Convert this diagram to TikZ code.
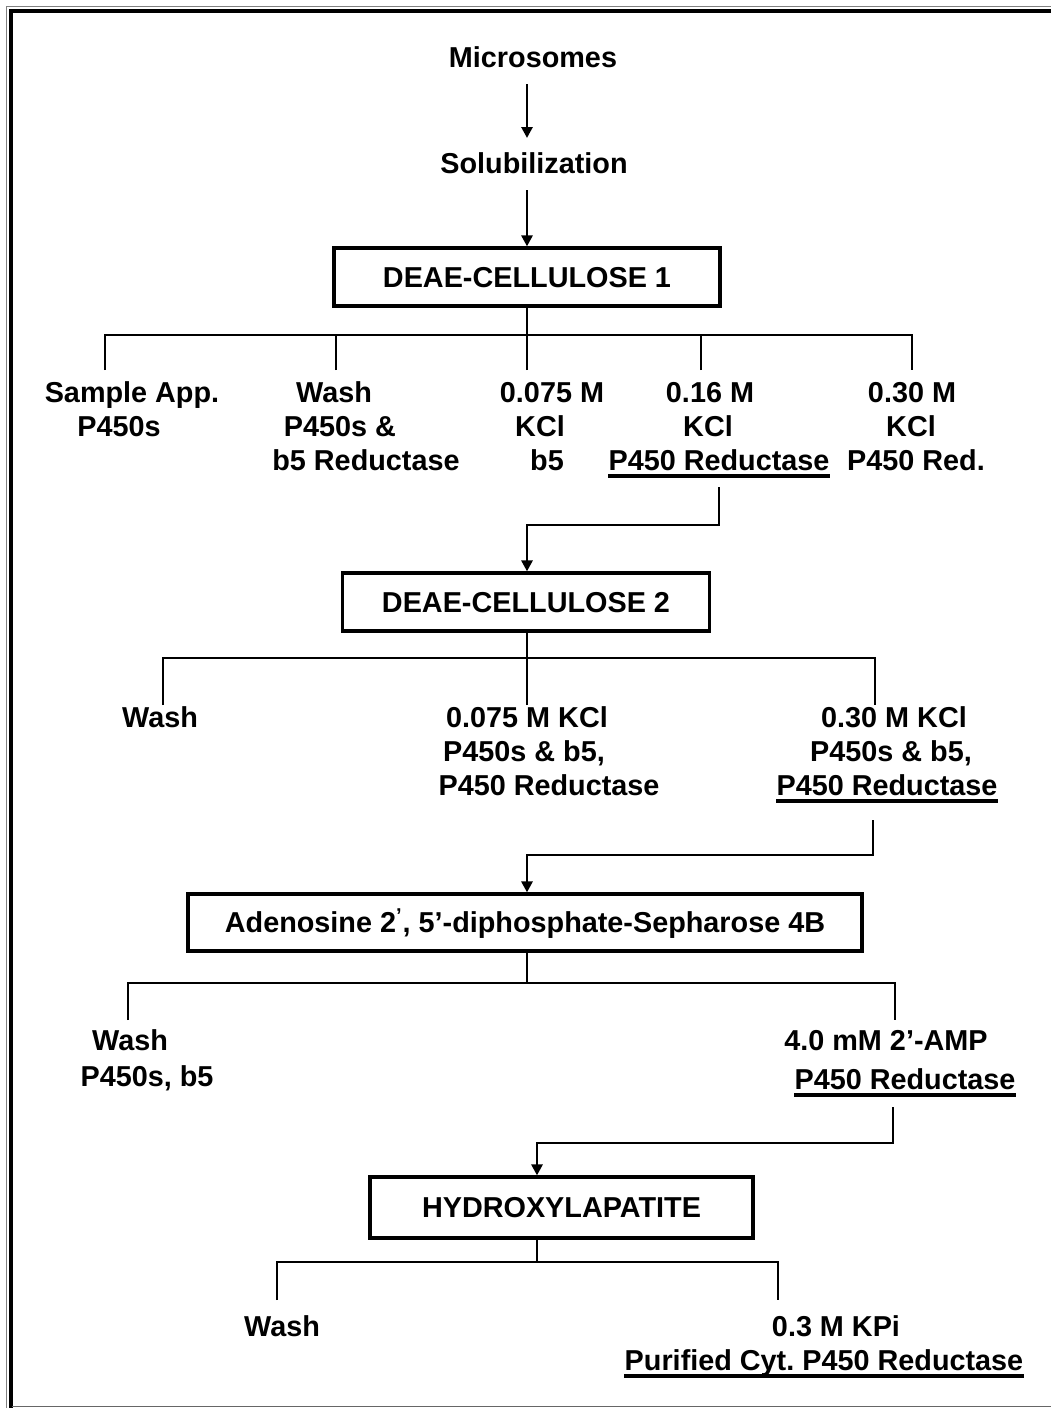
\documentclass[tikz,border=0pt]{standalone}
\usepackage{fontspec}
\setmainfont{Liberation Sans}
\usetikzlibrary{arrows.meta,calc}
\frenchspacing
\begin{document}
\begin{tikzpicture}[x=0.5pt,y=-0.5pt,
  lbl/.style={anchor=base,inner sep=0pt,font=\fontsize{14.4}{17}\selectfont\bfseries},
  boxn/.style={draw,line width=1.6pt,inner sep=0pt,text height=10.3pt,text depth=0pt,
    font=\fontsize{14.4}{17}\selectfont\bfseries},
  ln/.style={line width=1.4pt},
  ul/.style={line width=2pt},
  arr/.style={line width=1.4pt,-{Triangle[length=5.5pt,width=5.5pt]}}]
\useasboundingbox (0,0) rectangle (1051,1408);
% frame
\draw[gray,line width=0.8pt] (6.5,1408) -- (6.5,6.5) -- (1051,6.5);
\draw[black,line width=2pt] (10.5,1408) -- (10.5,10.5) -- (1051,10.5);
\draw[gray!80!black,line width=0.8pt] (12,1406.5) -- (1051,1406.5);

% top
\node[lbl] (micro) at (533,67) {Microsomes};
\node[lbl] (solub) at (534,173) {Solubilization};
\node[boxn,minimum width=193pt,minimum height=29pt] (box1) at (527,277) {DEAE-CELLULOSE 1};
\draw[arr] ($(micro.base -| box1.north)+(0,17)$) -- ($(solub.base -| box1.north)+(0,-35)$);
\draw[arr] ($(solub.base -| box1.north)+(0,17)$) -- (box1.north);

% branches of box1
\coordinate (j1) at (527,335);
\coordinate (d11) at (105,370);
\coordinate (d12) at (336,370);
\coordinate (d13) at (527,370);
\coordinate (d14) at (701,370);
\coordinate (d15) at (912,370);
\draw[ln] (box1.south) -- (j1);
\draw[ln] (d11) -- (d11 |- j1) -- (d15 |- j1) -- (d15);
\draw[ln] (d12) -- (d12 |- j1);
\draw[ln] (d13) -- (d13 |- j1);
\draw[ln] (d14) -- (d14 |- j1);

\node[lbl] (r11a) at (132,402) {Sample App.};
\node[lbl] (r11b) at (119,436) {P450s};
\node[lbl] (r12a) at (334,402) {Wash};
\node[lbl] (r12b) at (340,436) {P450s \&};
\node[lbl] (r12c) at (366,470) {b5 Reductase};
\node[lbl] (r13a) at (552,402) {0.075 M};
\node[lbl] (r13b) at (540,436) {KCl};
\node[lbl] (r13c) at (547,470) {b5};
\node[lbl] (r14a) at (710,402) {0.16 M};
\node[lbl] (r14b) at (708,436) {KCl};
\node[lbl] (r14c) at (719,470) {P450 Reductase};
\draw[ul] ($(r14c.base west)+(0,6)$) -- ($(r14c.base east)+(0,6)$);
\node[lbl] (r15a) at (912,402) {0.30 M};
\node[lbl] (r15b) at (911,436) {KCl};
\node[lbl] (r15c) at (916,470) {P450 Red.};

% to box2
\node[boxn,minimum width=183.5pt,minimum height=29pt] (box2) at (526,602) {DEAE-CELLULOSE 2};
\coordinate (k1) at (527,525);
\draw[arr] ($(r14c.base)+(0,17)$) |- (k1) -- (box2.north -| k1);

% branches of box2
\coordinate (j2) at (527,658);
\coordinate (d21) at (163,705);
\coordinate (d22) at (527,705);
\coordinate (d23) at (875,705);
\draw[ln] (box2.south -| j2) -- (j2);
\draw[ln] (d21) -- (d21 |- j2) -- (d23 |- j2) -- (d23);
\draw[ln] (d22) -- (d22 |- j2);

\node[lbl] (r21) at (160,727) {Wash};
\node[lbl] (r22a) at (527,727) {0.075 M KCl};
\node[lbl] (r22b) at (524,761) {P450s \& b5,};
\node[lbl] (r22c) at (549,795) {P450 Reductase};
\node[lbl] (r23a) at (894,727) {0.30 M KCl};
\node[lbl] (r23b) at (891,761) {P450s \& b5,};
\node[lbl] (r23c) at (887,795) {P450 Reductase};
\draw[ul] ($(r23c.base west)+(0,6)$) -- ($(r23c.base east)+(0,6)$);

% to box3
\node[boxn,minimum width=337pt,minimum height=28.5pt] (box3) at (525,922.5) {Adenosine 2\textsuperscript{’}, 5’-diphosphate-Sepharose 4B};
\coordinate (k2) at (527,855);
\coordinate (s2) at (873,820);
\draw[arr] (s2) |- (k2) -- (box3.north -| k2);

% branches of box3
\coordinate (j3) at (527,983);
\coordinate (d31) at (128,1020);
\coordinate (d32) at (895,1020);
\draw[ln] (box3.south -| j3) -- (j3);
\draw[ln] (d31) -- (d31 |- j3) -- (d32 |- j3) -- (d32);

\node[lbl] (r31a) at (130,1050) {Wash};
\node[lbl] (r31b) at (147,1086) {P450s, b5};
\node[lbl] (r32a) at (886,1050) {4.0 mM 2’-AMP};
\node[lbl] (r32b) at (905,1089) {P450 Reductase};
\draw[ul] ($(r32b.base west)+(0,6)$) -- ($(r32b.base east)+(0,6)$);

% to box4
\node[boxn,minimum width=191.5pt,minimum height=30.5pt] (box4) at (561.5,1207.5) {HYDROXYLAPATITE};
\coordinate (k3) at (537,1143);
\coordinate (s3) at (893,1107);
\draw[arr] (s3) |- (k3) -- (box4.north -| k3);

% branches of box4
\coordinate (j4) at (537,1262);
\coordinate (d41) at (277,1300);
\coordinate (d42) at (778,1300);
\draw[ln] (box4.south -| j4) -- (j4);
\draw[ln] (d41) -- (d41 |- j4) -- (d42 |- j4) -- (d42);

\node[lbl] (r41) at (282,1336) {Wash};
\node[lbl] (r42a) at (836,1336) {0.3 M KPi};
\node[lbl] (r42b) at (824,1370) {Purified Cyt. P450 Reductase};
\draw[ul] ($(r42b.base west)+(0,6)$) -- ($(r42b.base east)+(0,6)$);
\end{tikzpicture}
\end{document}
